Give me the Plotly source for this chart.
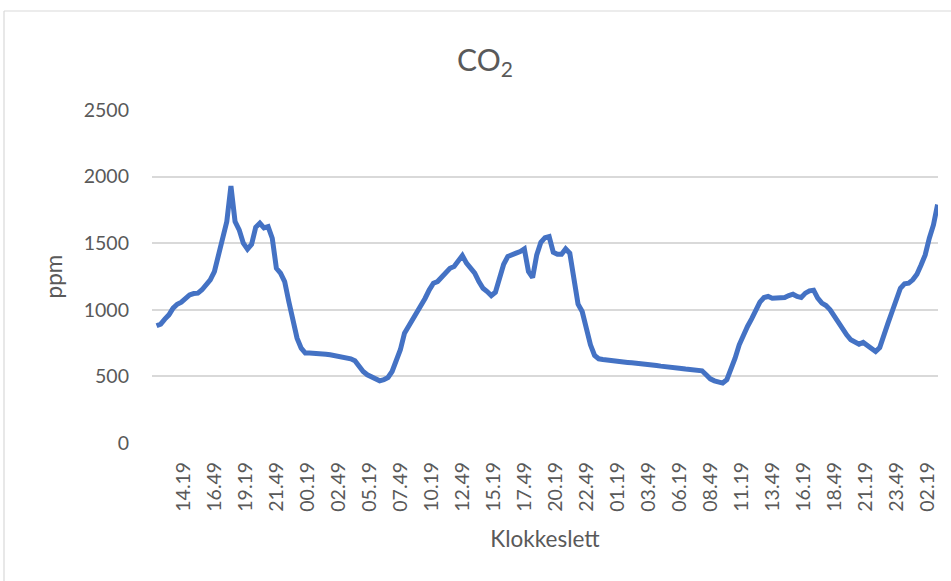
import plotly.graph_objects as go

# CO2 concentration (ppm), one reading every 20 minutes starting at 12.09
start_clock = "12.09"
step_minutes = 20
ppm = [
    880, 892, 930, 962, 1012, 1042, 1057, 1080, 1112, 1122,
    1125, 1150, 1187, 1225, 1287, 1412, 1537, 1662, 1930, 1662,
    1600, 1500, 1455, 1492, 1620, 1650, 1615, 1625, 1537, 1312,
    1275, 1212, 1062, 912, 787, 712, 675, 675, 675, 672,
    670, 667, 662, 657, 650, 642, 637, 632, 617, 575,
    537, 512, 495, 480, 467, 475, 492, 537, 625, 700,
    825, 875, 925, 987, 1025, 1087, 1150, 1200, 1212, 1250,
    1287, 1312, 1325, 1362, 1407, 1350, 1307, 1275, 1212, 1162,
    1137, 1107, 1132, 1237, 1342, 1400, 1417, 1425, 1437, 1457,
    1287, 1242, 1412, 1507, 1542, 1550, 1432, 1417, 1417, 1457,
    1425, 1250, 1042, 987, 862, 737, 657, 632, 627, 622,
    617, 612, 610, 608, 605, 602, 600, 595, 592, 590,
    585, 582, 577, 575, 570, 567, 562, 560, 555, 552,
    550, 547, 542, 512, 482, 467, 457, 450, 475, 550,
    637, 737, 812, 875, 932, 987, 1057, 1092, 1100, 1087,
    1087, 1087, 1092, 1107, 1117, 1100, 1092, 1125, 1142, 1147,
    1087, 1050, 1032, 1000, 950, 900, 862, 812, 775, 757,
    742, 755, 732, 707, 687, 717, 825, 900, 987, 1075,
    1162, 1195, 1200, 1225, 1267, 1337, 1412, 1537, 1637, 1790,
]

tick_labels = [
    "14.19", "16.49", "19.19", "21.49", "00.19", "02.49", "05.19", "07.49",
    "10.19", "12.49", "15.19", "17.49", "20.19", "22.49", "01.19", "03.49",
    "06.19", "08.49", "11.19", "13.49", "16.19", "18.49", "21.19", "23.49",
    "02.19",
]
y_ticks = [0, 500, 1000, 1500, 2000, 2500]


def clock_to_min(s):
    h, m = s.split(".")
    return int(h) * 60 + int(m)


# elapsed minutes on a continuous time line (days roll over at midnight)
t0 = clock_to_min(start_clock)
x_vals = [t0 + i * step_minutes for i in range(len(ppm))]

tick_vals = []
day_offset = 0
prev = None
for lab in tick_labels:
    m = clock_to_min(lab)
    if prev is not None and m + day_offset < prev:
        day_offset += 1440
    prev = m + day_offset
    tick_vals.append(prev)

FONT = "Lato, 'Open Sans', sans-serif"
TEXT = "#595959"
GRID = "#d9d9d9"

W, H = 951, 581
L, R, T, B = 152, 13, 110, 138
pw, ph = W - L - R, H - T - B

fig = go.Figure(
    go.Scatter(
        x=x_vals,
        y=ppm,
        mode="lines",
        line=dict(color="#4472C4", width=5),
        hoverinfo="x+y",
    )
)


def px_x(p):
    return (p - L) / pw


def px_y(p):
    return (H - B - p) / ph


# outer chart-area border (top and left edges)
fig.add_shape(type="line", xref="paper", yref="paper",
              x0=px_x(4), x1=px_x(W + 2), y0=px_y(11), y1=px_y(11),
              line=dict(color=GRID, width=1.2))
fig.add_shape(type="line", xref="paper", yref="paper",
              x0=px_x(4), x1=px_x(4), y0=px_y(11), y1=px_y(H + 2),
              line=dict(color=GRID, width=1.2))

fig.update_layout(
    width=W,
    height=H,
    margin=dict(l=L, r=R, t=T, b=B),
    paper_bgcolor="white",
    plot_bgcolor="white",
    showlegend=False,
    title=dict(
        text="CO<sub>2</sub>",
        x=485 / W,
        xref="container",
        xanchor="center",
        y=1 - 60 / H,
        yref="container",
        yanchor="middle",
        font=dict(family=FONT, size=30, color=TEXT),
    ),
    xaxis=dict(
        range=[t0 - 22, x_vals[-1] + 2],
        tickmode="array",
        tickvals=tick_vals,
        ticktext=tick_labels,
        tickangle=-90,
        showgrid=False,
        zeroline=False,
        showline=False,
        ticks="",
        ticklabelstandoff=14,
        tickfont=dict(family=FONT, size=19.5, color=TEXT),
        title=dict(text="Klokkeslett", standoff=20,
                   font=dict(family=FONT, size=22.5, color=TEXT)),
    ),
    yaxis=dict(
        range=[0, 2500],
        tickmode="array",
        tickvals=y_ticks,
        showgrid=True,
        gridcolor=GRID,
        gridwidth=1.5,
        zeroline=False,
        showline=False,
        ticks="",
        ticklabelstandoff=22,
        tickfont=dict(family=FONT, size=19.5, color=TEXT),
        title=dict(text="ppm", standoff=14,
                   font=dict(family=FONT, size=22.5, color=TEXT)),
    ),
)

fig.write_html("out.html")
